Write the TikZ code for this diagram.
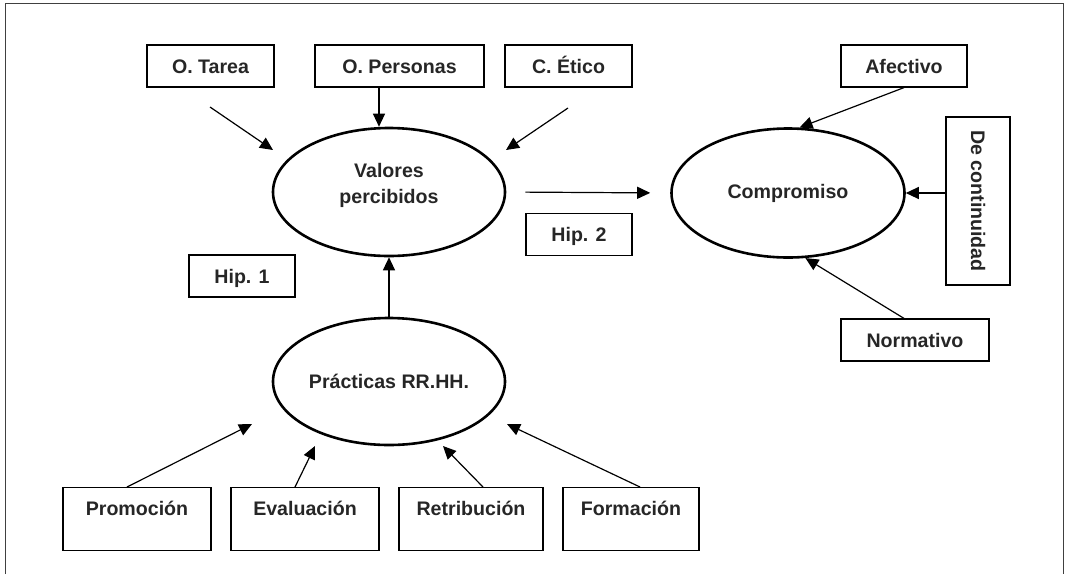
\documentclass[tikz,border=0pt]{standalone}
\usepackage{fontspec}
\setmainfont{Liberation Sans}
\usepackage{xcolor}
\usepackage{tikz}
\usetikzlibrary{shapes.geometric, arrows.meta, positioning}

\begin{document}
\begin{tikzpicture}[x=1pt, y=-1pt,
    every node/.style={font=\fontsize{19.6}{26}\selectfont\bfseries, text=black!85},
    block/.style={rectangle, draw, line width=1.2pt, inner sep=0pt, minimum height=42pt, text height=18pt, text depth=4pt},
    tallblock/.style={rectangle, draw, line width=1.2pt, inner sep=0pt, text height=28pt, text depth=35pt},
    oval/.style={ellipse, draw, line width=2.6pt, inner sep=0pt, minimum width=232pt, minimum height=128pt},
    arrow/.style={line width=1.2pt, -{Triangle[length=13pt, width=12pt]}},
    frame/.style={line width=0.9pt, black!75}]

    \useasboundingbox (0,0) rectangle (1065,574);
    \draw [frame] (5,574) -- (5,3) -- (1063,3) -- (1063,574);

    % Valores
    \node [block, minimum width=127pt] (tarea) at (210.5,66) {O. Tarea};
    \node [block, minimum width=169pt] (personas) at (399.5,66) {O. Personas};
    \node [block, minimum width=127pt] (etico) at (568.5,66) {C. Ético};
    \node [oval, label={[align=center, yshift=7pt]center:Valores\\percibidos}] (valores) at (389,192) {};

    % Hipotesis
    \node [block, minimum width=106pt] (hip1) at (242,276) {Hip. 1};
    \node [block, minimum width=106pt] (hip2) at (579,234.5) {Hip. 2};

    % Compromiso
    \node [oval, minimum width=233pt, minimum height=129pt] (compromiso) at (788,193) {Compromiso};
    \node [block, minimum width=126pt] (afectivo) at (904,66) {Afectivo};
    \node [block, minimum width=168pt, minimum height=64pt, rotate=-90] (continuidad) at (978,201) {De continuidad};
    \node [block, minimum width=148pt] (normativo) at (915,340) {Normativo};

    % Practicas
    \node [oval, minimum height=127pt] (practicas) at (389,381.5) {Prácticas RR.HH.};
    \node [tallblock, minimum width=148pt] (promocion) at (137,487) [anchor=north] {Promoción};
    \node [tallblock, minimum width=148pt] (evaluacion) at (305,487) [anchor=north] {Evaluación};
    \node [tallblock, minimum width=144pt] (retribucion) at (471,487) [anchor=north] {Retribución};
    \node [tallblock, minimum width=136pt] (formacion) at (631,487) [anchor=north] {Formación};

    % Arrow ends
    \coordinate (tarea-from) at (210,107);
    \coordinate (tarea-to) at (273,150);
    \coordinate (etico-from) at (568,108);
    \coordinate (etico-to) at (506,150);
    \coordinate (promocion-to) at (252,424);
    \coordinate (evaluacion-to) at (315,446);
    \coordinate (retribucion-to) at (443,446);
    \coordinate (formacion-to) at (507,424);

    % Arrows
    \draw [arrow] (tarea-from) -- (tarea-to);
    \draw [arrow] ([xshift=-20.5pt]personas.south) -- ([xshift=-20.5pt]personas.south |- valores.north);
    \draw [arrow] (etico-from) -- (etico-to);
    \draw [arrow] (practicas.north) -- (valores.south);
    \draw [arrow, shorten <=19pt, shorten >=20pt] (valores.east) -- (compromiso.west);
    \draw [arrow] (afectivo.south) -- (compromiso.80);
    \draw [arrow] (continuidad.south |- compromiso.east) -- (compromiso.east);
    \draw [arrow] ([xshift=-11pt]normativo.north) -- (compromiso.-75);
    \draw [arrow] ([xshift=-10pt]promocion.north) -- (promocion-to);
    \draw [arrow] ([xshift=-10pt]evaluacion.north) -- (evaluacion-to);
    \draw [arrow] ([xshift=12pt]retribucion.north) -- (retribucion-to);
    \draw [arrow] ([xshift=9pt]formacion.north) -- (formacion-to);
\end{tikzpicture}
\end{document}
